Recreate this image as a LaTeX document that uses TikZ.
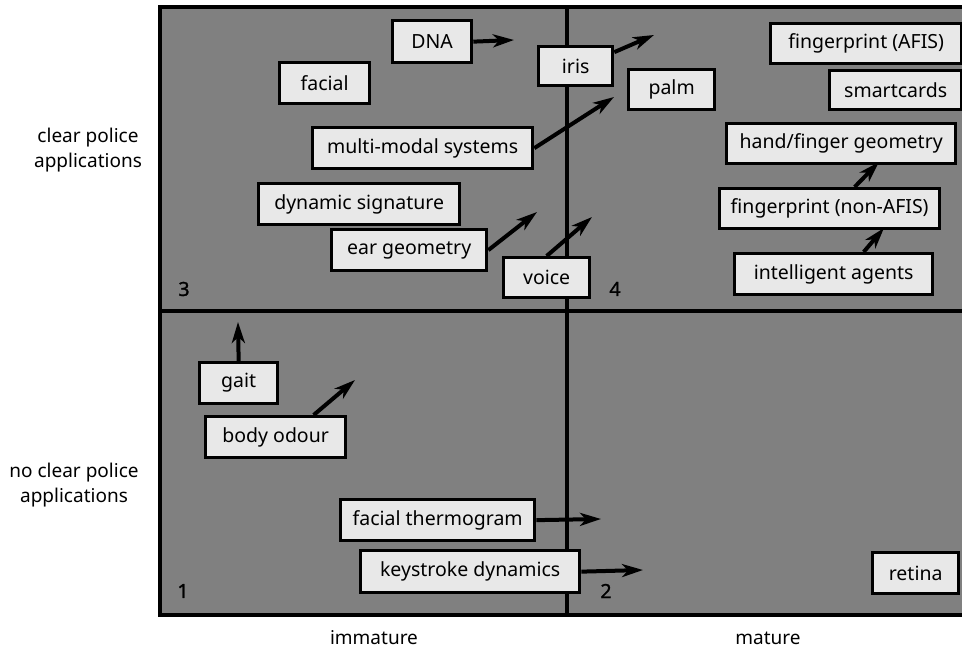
\documentclass[tikz,border=0pt]{standalone}
\usepackage{fontspec}
\setmainfont{Noto Sans}
\newfontfamily\digitfont[FakeBold=1.3]{Noto Sans}
\usepackage{tikz}
\usetikzlibrary{arrows.meta, positioning}

\definecolor{panelgray}{gray}{0.5}
\definecolor{boxgray}{gray}{0.91}

\tikzset{
    tech/.style={draw, line width=3.3pt, fill=boxgray, anchor=north west, inner sep=0pt},
    trend/.style={line width=4pt, -{Stealth[length=21pt, width=13pt, inset=6pt]}},
    quadnum/.style={font=\fontsize{19.5}{25}\digitfont},
    axislabel/.style={align=center, font=\fontsize{19}{25}\selectfont}
}

\begin{document}
\begin{tikzpicture}[x=1pt, y=-1pt, font=\fontsize{19.5}{25}\selectfont]
        \useasboundingbox (0,0) rectangle (962,652);

        % Quadrants
        \draw[line width=4pt, fill=panelgray] (160,7) rectangle (968,615);
        \coordinate (vtop) at (567,7);
        \coordinate (vbot) at (567,615);
        \coordinate (hleft) at (160,311);
        \coordinate (hright) at (968,311);
        \draw[line width=4pt] (vtop) -- (vbot);
        \draw[line width=4pt] (hleft) -- (hright);

        % Quadrant numbers
        \node[quadnum] (q3) at (184,289) {3};
        \node[quadnum] (q4) at (615,289) {4};
        \node[quadnum] (q1) at (183,591) {1};
        \node[quadnum] (q2) at (606,591) {2};

        % Technologies, upper half
        \node[tech, minimum width=79pt, minimum height=42pt] (dna) at (391,19) {DNA};
        \node[tech, minimum width=90pt, minimum height=41pt] (facial) at (278,61) {facial};
        \node[tech, minimum width=220pt, minimum height=41pt] (multi) at (311,126) {multi-modal systems};
        \node[tech, minimum width=201pt, minimum height=41pt] (dynsig) at (257,182) {dynamic signature};
        \node[tech, minimum width=155pt, minimum height=41pt] (ear) at (330,228) {ear geometry};
        \node[tech, minimum width=86pt, minimum height=40pt] (voice) at (502,256) {voice};
        \node[tech, minimum width=74pt, minimum height=39pt] (iris) at (537,45) {iris};
        \node[tech, minimum width=86pt, minimum height=40pt] (palm) at (627,68) {palm};
        \node[tech, minimum width=191pt, minimum height=40pt] (afis) at (769,22) {fingerprint (AFIS)};
        \node[tech, minimum width=132pt, minimum height=39pt] (smart) at (828,69) {smartcards};
        \node[tech, minimum width=229pt, minimum height=40pt] (hand) at (725,122) {hand/finger geometry};
        \node[tech, minimum width=220pt, minimum height=40pt] (nonafis) at (718,187) {fingerprint (non-AFIS)};
        \node[tech, minimum width=198pt, minimum height=41pt] (agents) at (733,252) {intelligent agents};

        % Technologies, lower half
        \node[tech, minimum width=78pt, minimum height=41pt] (gait) at (198,361) {gait};
        \node[tech, minimum width=140pt, minimum height=41pt] (odour) at (204,415) {body odour};
        \node[tech, minimum width=194pt, minimum height=41pt] (thermo) at (339,498) {facial thermogram};
        \node[tech, minimum width=219pt, minimum height=42pt] (keys) at (359,549) {keystroke dynamics};
        \node[tech, minimum width=86pt, minimum height=41pt] (retina) at (871,551) {retina};

        % Arrow ends
        \coordinate (dnato) at (514,40);
        \coordinate (multito) at (614,97);
        \coordinate (earto) at (537,212);
        \coordinate (voiceto) at (592,217);
        \coordinate (iristo) at (654,35);
        \coordinate (nonafisto) at (879,162);
        \coordinate (agentsto) at (884,228);
        \coordinate (gaitto) at (238,322);
        \coordinate (odourto) at (355,380);
        \coordinate (thermoto) at (601,519);
        \coordinate (keysto) at (643,570);

        % Arrows
        \draw[trend] (dna.east) -- (dnato);
        \draw[trend] (multi.east) -- (multito);
        \draw[trend] (ear.east) -- (earto);
        \draw[trend] (voice.north) -- (voiceto);
        \draw[trend] ([yshift=14pt]iris.east) -- (iristo);
        \draw[trend] ([xshift=25pt]nonafis.north) -- (nonafisto);
        \draw[trend] ([xshift=30pt]agents.north) -- (agentsto);
        \draw[trend] (gait.north) -- (gaitto);
        \draw[trend] ([xshift=38pt]odour.north) -- (odourto);
        \draw[trend] (thermo.east) -- (thermoto);
        \draw[trend] (keys.east) -- (keysto);

        % Axis labels
        \node[axislabel] (clear) at (88,150) {clear police\\applications};
        \node[axislabel] (noclear) at (74,485) {no clear police\\applications};
        \node[axislabel] (immature) at (374,638) {immature};
        \node[axislabel] (mature) at (768,638) {mature};
\end{tikzpicture}
\end{document}
